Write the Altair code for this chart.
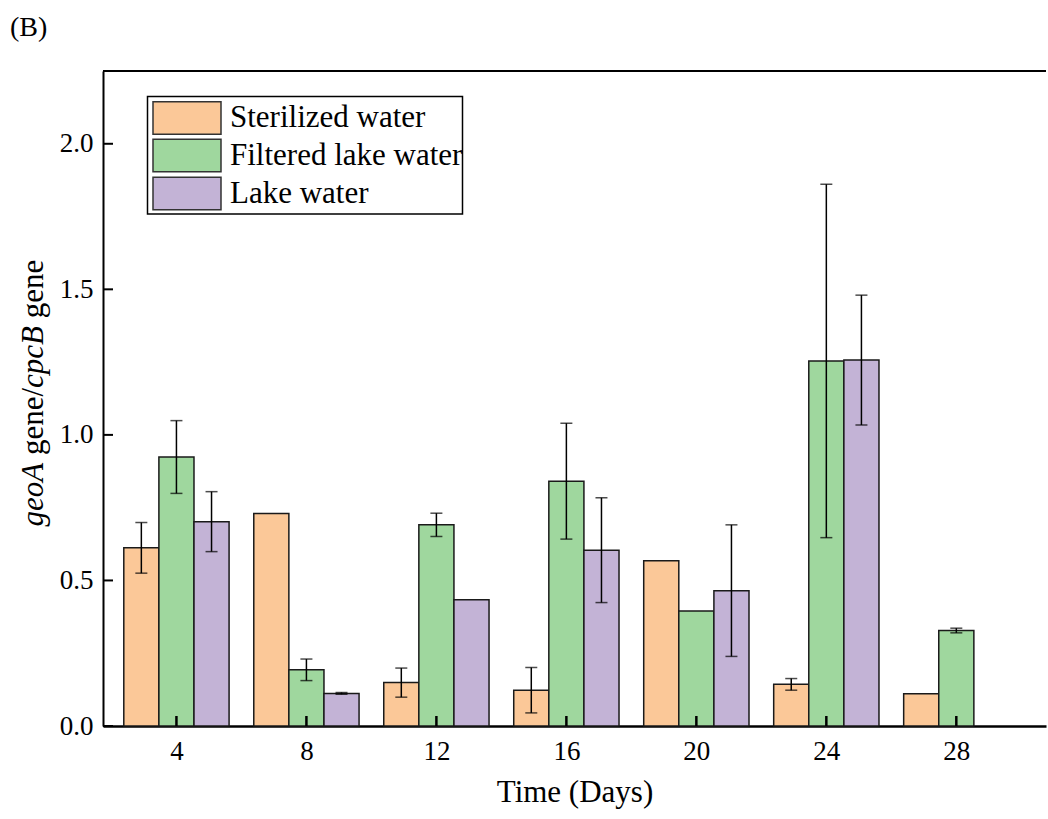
import altair as alt
import pandas as pd

days = [4, 8, 12, 16, 20, 24, 28]
groups = ["Sterilized water", "Filtered lake water", "Lake water"]
colors = ["#FBC898", "#9FD79E", "#C3B3D6"]

sterilized = [0.612, 0.730, 0.149, 0.123, 0.568, 0.143, 0.111]
sterilized_err = [0.087, 0.0, 0.050, 0.078, 0.0, 0.020, 0.0]
filtered = [0.924, 0.193, 0.691, 0.841, 0.395, 1.254, 0.328]
filtered_err = [0.125, 0.037, 0.040, 0.199, 0.0, 0.607, 0.008]
lake = [0.702, 0.112, 0.434, 0.604, 0.465, 1.257, None]
lake_err = [0.103, 0.003, 0.0, 0.180, 0.226, 0.223, None]

y_ticks = [0.0, 0.5, 1.0, 1.5, 2.0]

W, H = 943, 655
FONT = "Liberation Serif"
BAR_W = 1.08

rows = []
for gi, (vals, errs) in enumerate([(sterilized, sterilized_err),
                                   (filtered, filtered_err),
                                   (lake, lake_err)]):
    for d, v, e in zip(days, vals, errs):
        if v is None:
            continue
        rows.append({"day": d, "group": groups[gi], "gi": gi, "value": v, "err": e})
df = pd.DataFrame(rows)

xscale = alt.Scale(domain=[1.74, 30.76], nice=False, zero=False)
yscale = alt.Scale(domain=[0, 2.25], nice=False)
cscale = alt.Scale(domain=groups, range=colors)

base = alt.Chart(df).transform_calculate(
    xc=f"datum.day + (datum.gi - 1) * {BAR_W}",
    x0=f"datum.day + (datum.gi - 1) * {BAR_W} - {BAR_W / 2}",
    x1=f"datum.day + (datum.gi - 1) * {BAR_W} + {BAR_W / 2}",
    zero="0",
    lo="datum.value - datum.err",
    hi="datum.value + datum.err",
)

bars = base.mark_rect(stroke="#1a1a1a", strokeWidth=1.5).encode(
    x=alt.X("x0:Q", scale=xscale,
            axis=alt.Axis(values=days, title="Time (Days)", ticks=False, grid=False,
                          labelFontSize=27, labelPadding=12, titleFontSize=31,
                          titlePadding=13, domainWidth=2.5)),
    x2="x1:Q",
    y=alt.Y("value:Q", scale=yscale,
            axis=alt.Axis(values=y_ticks, format=".1f", title=None, ticks=False,
                          grid=False, labelFontSize=27, labelPadding=10, domainWidth=2)),
    y2="zero:Q",
    color=alt.Color("group:N", scale=cscale, legend=None),
)

errs = base.transform_filter("datum.err > 0")
err_rule = errs.mark_rule(color="black", strokeWidth=1.5).encode(
    x=alt.X("xc:Q", scale=xscale), y=alt.Y("lo:Q", scale=yscale), y2="hi:Q")
cap_lo = errs.mark_tick(color="black", orient="horizontal", size=12, thickness=1.5).encode(
    x=alt.X("xc:Q", scale=xscale), y=alt.Y("lo:Q", scale=yscale))
cap_hi = errs.mark_tick(color="black", orient="horizontal", size=12, thickness=1.5).encode(
    x=alt.X("xc:Q", scale=xscale), y=alt.Y("hi:Q", scale=yscale))

# inward tick marks
ytick_df = pd.DataFrame({"v": y_ticks})
ytk = alt.Chart(ytick_df).mark_rule(color="black", strokeWidth=2).encode(
    y=alt.Y("v:Q", scale=yscale), x=alt.value(0), x2=alt.value(10))
xtick_df = pd.DataFrame({"d": days})
xtk = alt.Chart(xtick_df).mark_rule(color="black", strokeWidth=2.5).encode(
    x=alt.X("d:Q", scale=xscale), y=alt.value(H - 10), y2=alt.value(H))

# top frame line
top = alt.Chart(pd.DataFrame({"a": [0]})).mark_rule(color="black", strokeWidth=2).encode(
    x=alt.value(0), x2=alt.value(W), y=alt.value(0))

# y-axis title with mixed italic segments
FS = 31
title_parts = [("geoA", "italic", 455.5), ("gene/", "normal", 384.0),
               ("cpcB", "italic", 316.9), ("gene", "normal", 247.2)]
ylabel_layers = []
for txt, style, ypos in title_parts:
    ylabel_layers.append(
        alt.Chart(pd.DataFrame({"t": [txt]})).mark_text(
            font=FONT, fontSize=FS, fontStyle=style, angle=270, align="left",
            baseline="middle", color="black"
        ).encode(text="t:N", x=alt.value(-69), y=alt.value(ypos))
    )

panel = alt.Chart(pd.DataFrame({"t": ["(B)"]})).mark_text(
    font=FONT, fontSize=28, align="left", baseline="alphabetic", color="black"
).encode(text="t:N", x=alt.value(-93), y=alt.value(-35))

# legend drawn by hand
leg_layers = [
    alt.Chart(pd.DataFrame({"a": [0]})).mark_rect(
        fill="white", stroke="black", strokeWidth=1.5
    ).encode(x=alt.value(44.5), x2=alt.value(359.5), y=alt.value(25.5), y2=alt.value(143))
]
sw_top = [30.7, 68.3, 106.3]
for g, c, t in zip(groups, colors, sw_top):
    leg_layers.append(
        alt.Chart(pd.DataFrame({"g": [g]})).mark_rect(
            fill=c, stroke="#333333", strokeWidth=1.5
        ).encode(x=alt.value(50), x2=alt.value(118), y=alt.value(t), y2=alt.value(t + 32.5))
    )
    leg_layers.append(
        alt.Chart(pd.DataFrame({"g": [g]})).mark_text(
            font=FONT, fontSize=31, align="left", baseline="alphabetic", color="black"
        ).encode(text="g:N", x=alt.value(127), y=alt.value(t + 25.5))
    )

chart = alt.layer(
    bars, err_rule, cap_lo, cap_hi, ytk, xtk, top, panel, *ylabel_layers, *leg_layers
).properties(
    width=W, height=H,
    autosize=alt.AutoSizeParams(type="none"),
    padding={"left": 103, "top": 71, "right": 2, "bottom": 88},
).configure_view(stroke=None).configure_axis(
    labelFont=FONT, titleFont=FONT, labelColor="black", titleColor="black",
    domainColor="black", titleFontWeight="normal",
)

chart.save("out.html", embed_options={"renderer": "svg", "actions": False})
